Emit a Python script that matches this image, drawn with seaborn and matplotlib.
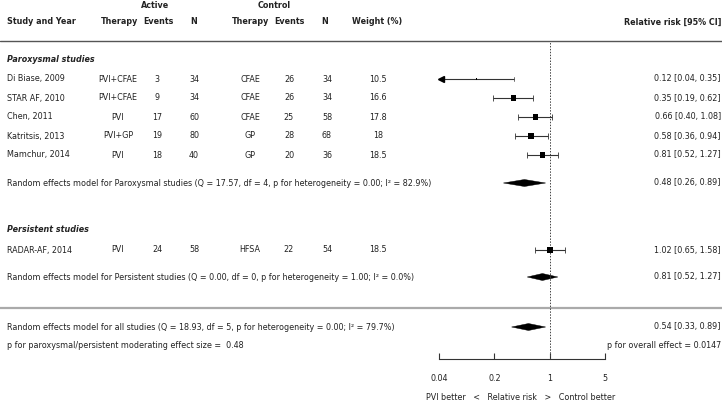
import numpy as np
import seaborn as sns
import pandas as pd
import matplotlib.pyplot as plt
from matplotlib.patches import Polygon

studies = ["Di Biase, 2009", "STAR AF, 2010", "Chen, 2011", "Katritsis, 2013", "Mamchur, 2014", "RADAR-AF, 2014"]
act_therapy = ["PVI+CFAE", "PVI+CFAE", "PVI", "PVI+GP", "PVI", "PVI"]
act_events = [3, 9, 17, 19, 18, 24]
act_n = [34, 34, 60, 80, 40, 58]
ctl_therapy = ["CFAE", "CFAE", "CFAE", "GP", "GP", "HFSA"]
ctl_events = [26, 26, 25, 28, 20, 22]
ctl_n = [34, 34, 58, 68, 36, 54]
weight = [10.5, 16.6, 17.8, 18, 18.5, 18.5]
rr = [0.12, 0.35, 0.66, 0.58, 0.81, 1.02]
rr_lo = [0.04, 0.19, 0.40, 0.36, 0.52, 0.65]
rr_hi = [0.35, 0.62, 1.08, 0.94, 1.27, 1.58]

pooled_names = ["Random effects model for Paroxysmal studies (Q = 17.57, df = 4, p for heterogeneity = 0.00; I\u00b2 = 82.9%)",
                "Random effects model for Persistent studies (Q = 0.00, df = 0, p for heterogeneity = 1.00; I\u00b2 = 0.0%)",
                "Random effects model for all studies (Q = 18.93, df = 5, p for heterogeneity = 0.00; I\u00b2 = 79.7%)"]
pooled_rr = [0.48, 0.81, 0.54]
pooled_lo = [0.26, 0.52, 0.33]
pooled_hi = [0.89, 1.27, 0.89]

xticks = [0.04, 0.2, 1, 5]
xticklabels = ["0.04", "0.2", "1", "5"]

# row layout (pixels from the top)
study_y = [79, 98, 117, 136, 155, 250]
pooled_y = [183, 277, 327]

sns.set_theme(style="white")
plt.rcParams['font.family'] = ['DejaVu Sans']
fs = 5.8
tc = "#222222"

fig = plt.figure(figsize=(7.22, 4.0), dpi=100)
ax_t = fig.add_axes([0, 0, 1, 1])
ax_t.set_xlim(0, 722)
ax_t.set_ylim(400, 0)
ax_t.axis("off")

# headers
ax_t.text(155, 5, "Active", ha="center", va="center", fontsize=fs, fontweight="bold", color=tc)
ax_t.text(274, 5, "Control", ha="center", va="center", fontsize=fs, fontweight="bold", color=tc)
heads = [(7, "Study and Year", "left"), (120, "Therapy", "center"), (158, "Events", "center"),
         (194, "N", "center"), (251, "Therapy", "center"), (289, "Events", "center"),
         (325, "N", "center"), (377, "Weight (%)", "center"), (721, "Relative risk [95% CI]", "right")]
for x, s, ha in heads:
    ax_t.text(x, 22, s, ha=ha, va="center", fontsize=fs, fontweight="bold", color=tc)

ax_t.plot([0, 722], [41, 41], color="#555555", lw=1)
ax_t.plot([0, 722], [308, 308], color="#aaaaaa", lw=1.6)

ax_t.text(7, 59, "Paroxysmal studies", ha="left", va="center", fontsize=fs, fontweight="bold",
          fontstyle="italic", color=tc)
ax_t.text(7, 230, "Persistent studies", ha="left", va="center", fontsize=fs, fontweight="bold",
          fontstyle="italic", color=tc)

for i, y in enumerate(study_y):
    ax_t.text(7, y, studies[i], ha="left", va="center", fontsize=fs, color=tc)
    ax_t.text(118, y, act_therapy[i], ha="center", va="center", fontsize=fs, color=tc)
    ax_t.text(157, y, str(act_events[i]), ha="center", va="center", fontsize=fs, color=tc)
    ax_t.text(194, y, str(act_n[i]), ha="center", va="center", fontsize=fs, color=tc)
    ax_t.text(250, y, ctl_therapy[i], ha="center", va="center", fontsize=fs, color=tc)
    ax_t.text(289, y, str(ctl_events[i]), ha="center", va="center", fontsize=fs, color=tc)
    ax_t.text(327, y, str(ctl_n[i]), ha="center", va="center", fontsize=fs, color=tc)
    ax_t.text(378, y, f"{weight[i]:g}", ha="center", va="center", fontsize=fs, color=tc)
    ax_t.text(721, y, f"{rr[i]:.2f} [{rr_lo[i]:.2f}, {rr_hi[i]:.2f}]", ha="right", va="center",
              fontsize=fs, color=tc)

for i, y in enumerate(pooled_y):
    ax_t.text(7, y, pooled_names[i], ha="left", va="center", fontsize=fs, color=tc)
    ax_t.text(721, y, f"{pooled_rr[i]:.2f} [{pooled_lo[i]:.2f}, {pooled_hi[i]:.2f}]", ha="right",
              va="center", fontsize=fs, color=tc)

ax_t.text(7, 345, "p for paroxysmal/persistent moderating effect size =  0.48", ha="left", va="center",
          fontsize=fs, color=tc)
ax_t.text(721, 345, "p for overall effect = 0.0147", ha="right", va="center", fontsize=fs, color=tc)
ax_t.text(521, 397, "PVI better   <   Relative risk   >   Control better", ha="center", va="center",
          fontsize=fs, color=tc)

# forest panel
ax = fig.add_axes([439 / 722, (400 - 359) / 400, (605 - 439) / 722, (359 - 41) / 400])
ax.patch.set_alpha(0)
ax.set_xscale("log")
ax.set_xlim(0.04, 5)
ax.set_ylim(359, 41)
for s in ["top", "left", "right"]:
    ax.spines[s].set_visible(False)
ax.spines["bottom"].set_color("#333333")
ax.spines["bottom"].set_linewidth(0.8)
ax.set_xticks(xticks)
ax.set_xticklabels(xticklabels)
ax.minorticks_off()
ax.set_yticks([])
ax.tick_params(axis="x", direction="in", length=4, width=0.8, color="#333333", pad=10.5,
               labelsize=fs, labelcolor=tc, bottom=True)
ax.grid(False)

ax.axvline(1, color="#444444", lw=0.7, ls=(0, (1.5, 1.5)))

df = pd.DataFrame({"rr": rr, "lo": rr_lo, "hi": rr_hi, "y": study_y, "w": weight})
clipped = df["lo"] <= 0.04
full = df[~clipped]
ax.errorbar(full["rr"], full["y"], xerr=[full["rr"] - full["lo"], full["hi"] - full["rr"]],
            fmt="none", ecolor="#333333", elinewidth=0.8, capsize=2, capthick=0.6)
for _, r in df[clipped].iterrows():
    ax.plot([r["lo"], r["hi"]], [r["y"], r["y"]], color="#333333", lw=0.8, clip_on=False)
    ax.plot([r["hi"]] * 2, [r["y"] - 2, r["y"] + 2], color="#555555", lw=0.6)
    ax.plot([r["lo"] * 1.05], [r["y"]], marker="<", ms=4.5, color="black", clip_on=False)
sns.scatterplot(data=df, x="rr", y="y", size="w", sizes=(1, 17), size_norm=(10.5, 18.5),
                marker="s", color="black", edgecolor="none", legend=False, ax=ax, zorder=3)
ax.set_xlabel("")
ax.set_ylabel("")

for i, y in enumerate(pooled_y):
    dia = Polygon([(pooled_lo[i], y), (pooled_rr[i], y - 3.5), (pooled_hi[i], y), (pooled_rr[i], y + 3.5)],
                  closed=True, facecolor="black", edgecolor="black", lw=0.3)
    ax.add_patch(dia)

plt.savefig("out.png", dpi=100)
